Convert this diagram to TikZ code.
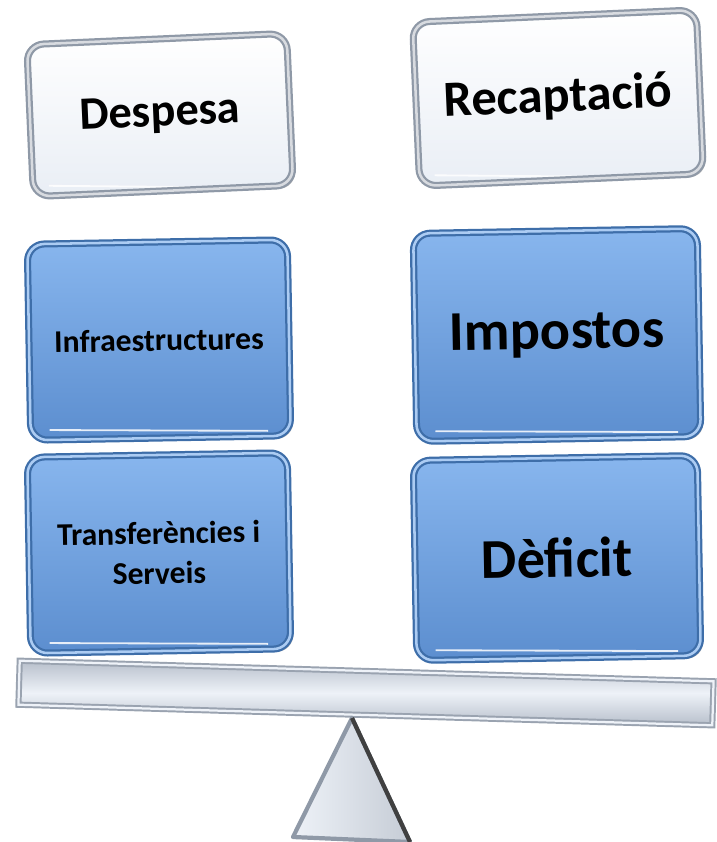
\documentclass[tikz,border=0pt]{standalone}
\usepackage{fontspec}
\setmainfont{Carlito}
\usetikzlibrary{shadows, positioning}

\definecolor{paneledge}{HTML}{8F99A7}
\definecolor{paneltop}{HTML}{FFFFFF}
\definecolor{panelbot}{HTML}{E9EEF5}
\definecolor{blueedge}{HTML}{3E6EA9}
\definecolor{bluetop}{HTML}{88B6EE}
\definecolor{bluebot}{HTML}{5C8ECF}
\definecolor{beamlight}{HTML}{EEF2F8}
\definecolor{beamdark}{HTML}{B7BFCB}

\tikzset{
  panel/.style={rounded corners=12pt, line width=1.6pt, draw=paneledge,
    double=paneledge!35, double distance=1.8pt,
    top color=paneltop, bottom color=panelbot, align=center, font=\bfseries,
    drop shadow={shadow xshift=2pt, shadow yshift=-2pt, opacity=.55},
    path picture={\draw[white, line width=1.3pt, opacity=.85]
      ([xshift=16pt,yshift=7pt]path picture bounding box.south west) --
      ([xshift=-16pt,yshift=7pt]path picture bounding box.south east);}},
  bluepanel/.style={panel, draw=blueedge, double=bluetop!70,
    top color=bluetop, bottom color=bluebot},
  beambox/.style={line width=1.4pt, draw=paneledge!90, double=beamlight,
    double distance=1.6pt, top color=beamdark, bottom color=beamdark,
    middle color=beamlight,
    drop shadow={shadow xshift=1.5pt, shadow yshift=-1.5pt, opacity=.55}},
  pivot/.style={line width=3pt, line join=round, draw=paneledge,
    left color=beamlight, right color=beamdark!80}
}

\begin{document}
\begin{tikzpicture}[x=0.025cm, y=-0.025cm]
  \useasboundingbox (0,0) rectangle (717,842);

  % column headers
  \node[panel, rotate=2.5, minimum width=6.5cm, minimum height=3.8cm,
    font=\bfseries\fontsize{33}{40}\selectfont] (despesa) at (160,115) {Despesa};
  \node[panel, rotate=2.5, minimum width=7.1cm, minimum height=4.1cm,
    font=\bfseries\fontsize{36}{43}\selectfont] (recaptacio) at (558,98) {Recaptació};

  % left pan
  \node[bluepanel, rotate=1, minimum width=6.5cm, minimum height=4.9cm,
    font=\bfseries\fontsize{22.5}{28.5}\selectfont] (infra) at (159,340) {Infraestructures};
  \node[bluepanel, rotate=1, minimum width=6.5cm, minimum height=4.9cm,
    font=\bfseries\fontsize{22.5}{28.5}\selectfont] (transf) at (159,553) {Transferències i\\Serveis};

  % right pan
  \node[bluepanel, rotate=1, minimum width=7.1cm, minimum height=5.2cm,
    font=\bfseries\fontsize{40}{48}\selectfont] (impostos) at (557,335) {Impostos};
  \node[bluepanel, rotate=1, minimum width=7.1cm, minimum height=5cm,
    font=\bfseries\fontsize{40}{48}\selectfont] (deficit) at (557,558) {Dèficit};

  % balance
  \node[beambox, rotate=-1.7, minimum width=17.35cm, minimum height=1.1cm] (beam) at (366,693) {};

  \coordinate (apex) at (352,718);
  \coordinate (baseL) at (293,837);
  \coordinate (baseR) at (410,842);
  \filldraw[pivot] (apex) -- (baseR) -- (baseL) -- cycle;
  \draw[line width=3pt, black!75] (apex) -- (baseR);
\end{tikzpicture}
\end{document}
